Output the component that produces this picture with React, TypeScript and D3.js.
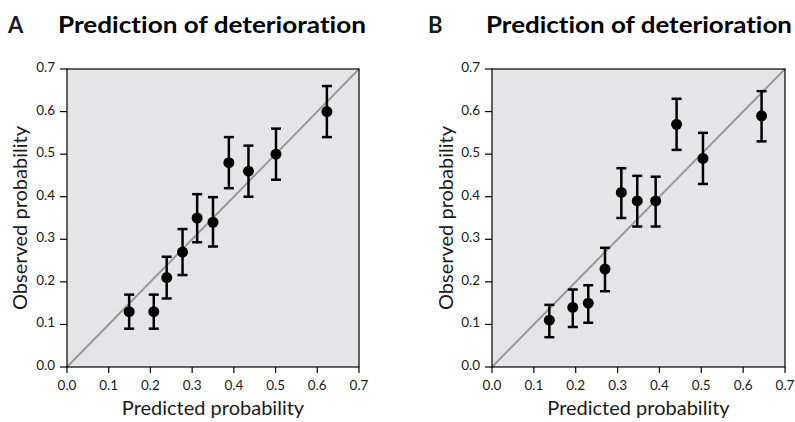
import React from 'react';
import * as d3 from 'd3';

// Panel A: prediction of deterioration (first cohort)
const predA = [0.149, 0.208, 0.239, 0.277, 0.312, 0.350, 0.388, 0.435, 0.501, 0.623];
const obsA = [0.13, 0.13, 0.21, 0.27, 0.35, 0.34, 0.48, 0.46, 0.50, 0.60];
const loA = [0.09, 0.09, 0.161, 0.216, 0.293, 0.283, 0.42, 0.40, 0.44, 0.54];
const hiA = [0.17, 0.17, 0.259, 0.324, 0.406, 0.399, 0.54, 0.52, 0.56, 0.66];

// Panel B: prediction of deterioration (second cohort)
const predB = [0.137, 0.193, 0.230, 0.270, 0.309, 0.347, 0.391, 0.441, 0.504, 0.644];
const obsB = [0.11, 0.14, 0.15, 0.23, 0.41, 0.39, 0.39, 0.57, 0.49, 0.59];
const loB = [0.070, 0.094, 0.104, 0.178, 0.35, 0.33, 0.33, 0.51, 0.43, 0.53];
const hiB = [0.146, 0.182, 0.192, 0.280, 0.467, 0.449, 0.447, 0.63, 0.55, 0.648];

const ticks = [0, 0.1, 0.2, 0.3, 0.4, 0.5, 0.6, 0.7];
const panelLetters = ['A', 'B'];
const title = 'Prediction of deterioration';
const xLabel = 'Predicted probability';
const yLabel = 'Observed probability';

const FONT = 'Lato, "Noto Sans", sans-serif';
const noLig = { fontVariantLigatures: 'none' } as React.CSSProperties;

type PanelProps = {
  letter: string;
  pred: number[];
  obs: number[];
  lo: number[];
  hi: number[];
  left: number;
  right: number;
  letterX: number;
  titleX: number;
  yLabelX: number;
};

const Panel = ({ letter, pred, obs, lo, hi, left, right, letterX, titleX, yLabelX }: PanelProps) => {
  const top = 69;
  const bottom = 367;
  const x = d3.scaleLinear().domain([0, 0.7]).range([left, right]);
  const y = d3.scaleLinear().domain([0, 0.7]).range([bottom, top]);
  const fmt = d3.format('.1f');
  const cap = 5;

  return (
    <g style={noLig}>
      <text x={letterX} y={33} fontFamily={FONT} fontWeight="bold" fontSize={22} fill="#1a1a1a">{letter}</text>
      <text x={titleX} y={33} fontFamily={FONT} fontWeight="bold" fontSize={22} fill="#000"
        textLength={right - titleX + 7} lengthAdjust="spacingAndGlyphs">{title}</text>

      <rect x={left} y={top} width={right - left} height={bottom - top} fill="#e5e5e7" />
      <line x1={x(0)} y1={y(0)} x2={x(0.7)} y2={y(0.7)} stroke="#999" strokeWidth={2} />

      {pred.map((p, i) => (
        <g key={i}>
          <line x1={x(p)} x2={x(p)} y1={y(lo[i])} y2={y(hi[i])} stroke="#000" strokeWidth={2.5} />
          <line x1={x(p) - cap} x2={x(p) + cap} y1={y(lo[i])} y2={y(lo[i])} stroke="#000" strokeWidth={2.5} />
          <line x1={x(p) - cap} x2={x(p) + cap} y1={y(hi[i])} y2={y(hi[i])} stroke="#000" strokeWidth={2.5} />
          <circle cx={x(p)} cy={y(obs[i])} r={5.5} fill="#000" />
        </g>
      ))}

      <rect x={left} y={top} width={right - left} height={bottom - top} fill="none" stroke="#000" strokeWidth={1.2} />

      {ticks.map(t => (
        <g key={'x' + t}>
          <line x1={x(t)} x2={x(t)} y1={bottom} y2={bottom + 6} stroke="#000" strokeWidth={1.2} />
          <text x={x(t)} y={bottom + 23} textAnchor="middle" fontFamily={FONT} fontSize={13.5} fill="#1a1a1a">{fmt(t)}</text>
        </g>
      ))}
      {ticks.map(t => (
        <g key={'y' + t}>
          <line x1={left - 7} x2={left} y1={y(t)} y2={y(t)} stroke="#000" strokeWidth={1.2} />
          <text x={left - 12} y={y(t) + 3} textAnchor="end" fontFamily={FONT} fontSize={13.5} fill="#1a1a1a">{fmt(t)}</text>
        </g>
      ))}

      <text x={(left + right) / 2} y={415} textAnchor="middle" fontFamily={FONT} fontSize={20} fill="#1a1a1a">{xLabel}</text>
      <text transform={`translate(${yLabelX},${(top + bottom) / 2}) rotate(-90)`} textAnchor="middle"
        fontFamily={FONT} fontSize={20} fill="#1a1a1a">{yLabel}</text>
    </g>
  );
};

export default function App() {
  return (
    <svg width={795} height={422} style={{ position: 'absolute', left: 0, top: 0, background: '#fff' }}>
      <Panel letter={panelLetters[0]} pred={predA} obs={obsA} lo={loA} hi={hiA}
        left={67} right={359} letterX={8} titleX={58} yLabelX={27} />
      <Panel letter={panelLetters[1]} pred={predB} obs={obsB} lo={loB} hi={hiB}
        left={492} right={785} letterX={428} titleX={486} yLabelX={453} />
    </svg>
  );
}
